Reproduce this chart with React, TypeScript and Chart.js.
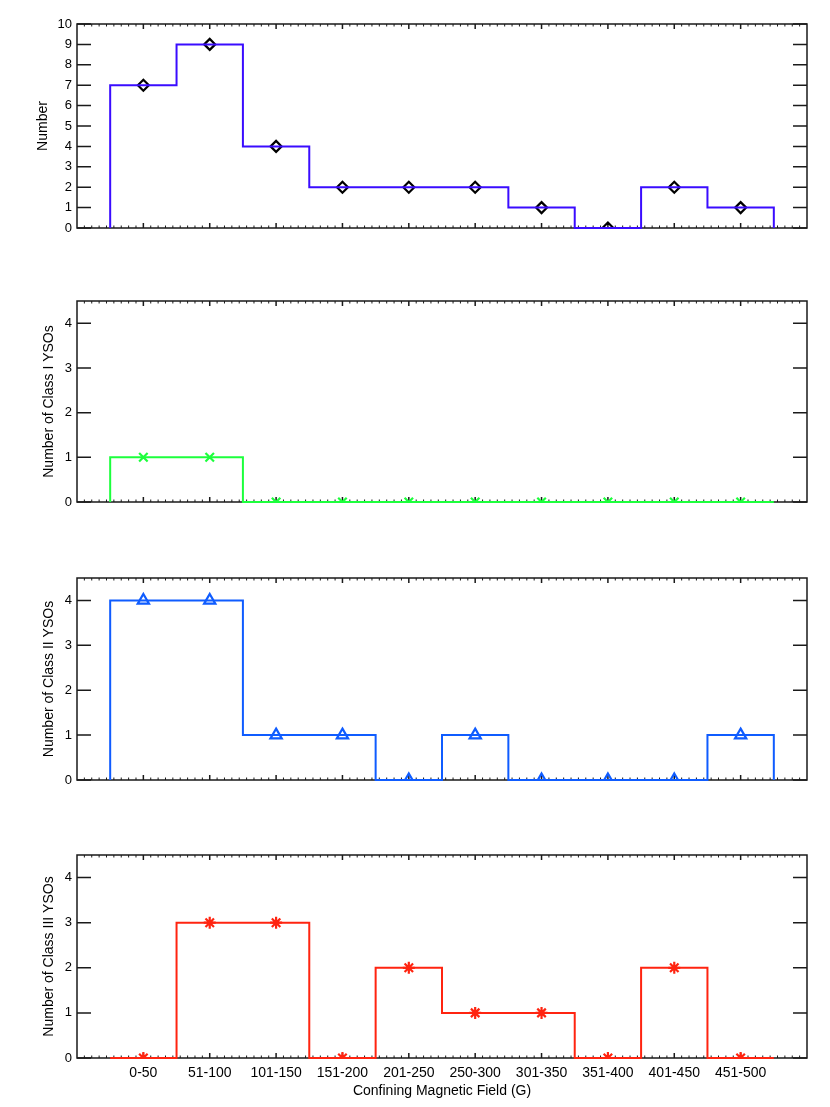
import React, { useEffect, useRef } from 'react';
import { Chart, registerables } from 'chart.js';

Chart.register(...registerables);

const categories = ['0-50', '51-100', '101-150', '151-200', '201-250', '250-300', '301-350', '351-400', '401-450', '451-500'];
const allCounts = [7, 9, 4, 2, 2, 2, 1, 0, 2, 1];
const classICounts = [1, 1, 0, 0, 0, 0, 0, 0, 0, 0];
const classIICounts = [4, 4, 1, 1, 0, 1, 0, 0, 0, 1];
const classIIICounts = [0, 3, 3, 0, 2, 1, 1, 0, 2, 0];
const allTicks = [0, 1, 2, 3, 4, 5, 6, 7, 8, 9, 10];
const classTicks = [0, 1, 2, 3, 4];
const xTitle = 'Confining Magnetic Field (G)';

const FONT = "'Liberation Sans', Arial, Helvetica, sans-serif";

type Panel = {
  values: number[];
  yTicks: number[];
  yMax: number;
  title: string;
  color: string;
  markerColor: string;
  pointStyle: string;
  pointRadius: number;
  top: number;
  height: number;
  titleX: number;
  bottomAxis: boolean;
};

const panels: Panel[] = [
  { values: allCounts, yTicks: allTicks, yMax: 10, title: 'Number', color: '#3a0cff', markerColor: '#000000', pointStyle: 'rectRot', pointRadius: 5.5, top: 24, height: 204, titleX: 43, bottomAxis: false },
  { values: classICounts, yTicks: classTicks, yMax: 4.5, title: 'Number of Class I YSOs', color: '#1cff3c', markerColor: '#1cff3c', pointStyle: 'crossRot', pointRadius: 6, top: 301, height: 201, titleX: 49, bottomAxis: false },
  { values: classIICounts, yTicks: classTicks, yMax: 4.5, title: 'Number of Class II YSOs', color: '#0f5cff', markerColor: '#0f5cff', pointStyle: 'triangle', pointRadius: 6.5, top: 578, height: 202, titleX: 49, bottomAxis: false },
  { values: classIIICounts, yTicks: classTicks, yMax: 4.5, title: 'Number of Class III YSOs', color: '#ff2410', markerColor: '#ff2410', pointStyle: 'star', pointRadius: 6, top: 855, height: 203, titleX: 49, bottomAxis: true },
];

const PAD_TOP = 16;
const PAD_BOTTOM = 20;
const X_AXIS_H = 48;
const Y_AXIS_W = 77;
const PAD_RIGHT = 23;

function stepPoints(vals: number[]) {
  const pts: { x: number; y: number }[] = [{ x: -0.5, y: 0 }];
  vals.forEach((v, i) => {
    pts.push({ x: i - 0.5, y: v });
    pts.push({ x: i + 0.5, y: v });
  });
  pts.push({ x: vals.length - 0.5, y: 0 });
  return pts;
}

const framePlugin = {
  id: 'idlFrame',
  beforeDatasetsDraw(chart: any) {
    const { ctx, chartArea, scales } = chart;
    const { left, right, top, bottom } = chartArea;
    const x = scales.x;
    const y = scales.y;
    const yTicks: number[] = chart.options.plugins.idlFrame.yTicks;
    ctx.save();
    ctx.strokeStyle = '#1a1a1a';
    ctx.lineWidth = 1.5;
    ctx.beginPath();
    ctx.rect(left, top, right - left, bottom - top);
    ctx.stroke();
    ctx.beginPath();
    yTicks.forEach((v) => {
      const py = y.getPixelForValue(v);
      ctx.moveTo(left, py);
      ctx.lineTo(left + 14, py);
      ctx.moveTo(right, py);
      ctx.lineTo(right - 14, py);
    });
    const n = categories.length;
    for (let i = 0; i < n; i++) {
      const px = x.getPixelForValue(i);
      ctx.moveTo(px, bottom);
      ctx.lineTo(px, bottom - 5);
      ctx.moveTo(px, top);
      ctx.lineTo(px, top + 5);
    }
    ctx.stroke();
    ctx.lineWidth = 1;
    ctx.beginPath();
    const minor = 9;
    for (let j = 0; j <= (n + 1) * minor; j++) {
      if (j % minor === 0) continue;
      const v = -1 + j / minor;
      const px = x.getPixelForValue(v);
      ctx.moveTo(px, bottom);
      ctx.lineTo(px, bottom - 2.5);
      ctx.moveTo(px, top);
      ctx.lineTo(px, top + 2.5);
    }
    ctx.stroke();
    ctx.restore();
  },
};

function PanelChart({ p }: { p: Panel }) {
  const ref = useRef<HTMLCanvasElement | null>(null);
  const padBottom = p.bottomAxis ? 0 : PAD_BOTTOM;
  const canvasH = PAD_TOP + p.height + (p.bottomAxis ? X_AXIS_H : padBottom);
  useEffect(() => {
    if (!ref.current) return;
    const chart = new Chart(ref.current, {
      type: 'scatter',
      data: {
        datasets: [
          {
            data: stepPoints(p.values),
            showLine: true,
            borderColor: p.color,
            borderWidth: 2,
            pointRadius: 0,
            fill: false,
            tension: 0,
            clip: 3,
          },
          {
            data: p.values.map((v, i) => ({ x: i, y: v })),
            showLine: false,
            pointStyle: p.pointStyle as any,
            pointRadius: p.pointRadius,
            pointBorderWidth: 2.2,
            pointBorderColor: p.markerColor,
            pointBackgroundColor: 'rgba(0,0,0,0)',
            borderColor: p.markerColor,
            backgroundColor: 'rgba(0,0,0,0)',
          },
        ],
      },
      options: {
        responsive: false,
        animation: false,
        devicePixelRatio: 1,
        layout: { padding: { left: 0, right: PAD_RIGHT, top: PAD_TOP, bottom: padBottom } },
        plugins: {
          legend: { display: false },
          tooltip: { enabled: false },
          idlFrame: { yTicks: p.yTicks },
        } as any,
        scales: {
          x: {
            type: 'linear',
            min: -1,
            max: categories.length,
            display: p.bottomAxis,
            grid: { display: false, drawTicks: false },
            border: { display: false },
            afterBuildTicks: (scale: any) => {
              scale.ticks = categories.map((_, i) => ({ value: i }));
            },
            afterFit: (scale: any) => {
              if (p.bottomAxis) scale.height = X_AXIS_H;
            },
            ticks: {
              autoSkip: false,
              maxRotation: 0,
              padding: 7,
              color: '#000',
              font: { family: FONT, size: 14 },
              callback: (v: any) => categories[v as number] ?? '',
            },
            title: {
              display: p.bottomAxis,
              text: xTitle,
              color: '#000',
              font: { family: FONT, size: 14 },
              padding: { top: 0, bottom: 6 },
            },
          },
          y: {
            type: 'linear',
            min: 0,
            max: p.yMax,
            grid: { display: false, drawTicks: false },
            border: { display: false },
            afterBuildTicks: (scale: any) => {
              scale.ticks = p.yTicks.map((v) => ({ value: v }));
            },
            afterFit: (scale: any) => {
              scale.width = Y_AXIS_W;
            },
            ticks: {
              autoSkip: false,
              padding: 5,
              color: '#000',
              font: { family: FONT, size: 13 },
            },
            title: {
              display: true,
              text: p.title,
              color: '#000',
              font: { family: FONT, size: 14 },
              padding: { top: p.titleX - 8.4, bottom: 0 },
            },
          },
        },
      },
      plugins: [framePlugin],
    } as any);
    return () => chart.destroy();
  }, [p]);
  return (
    <canvas
      ref={ref}
      width={830}
      height={canvasH}
      style={{ position: 'absolute', left: 0, top: p.top - PAD_TOP, width: 830, height: canvasH, display: 'block' }}
    />
  );
}

export default function App() {
  return (
    <div style={{ position: 'absolute', left: 0, top: 0, width: 830, height: 1107, background: '#ffffff' }}>
      {panels.map((p, i) => (
        <PanelChart key={i} p={p} />
      ))}
    </div>
  );
}
